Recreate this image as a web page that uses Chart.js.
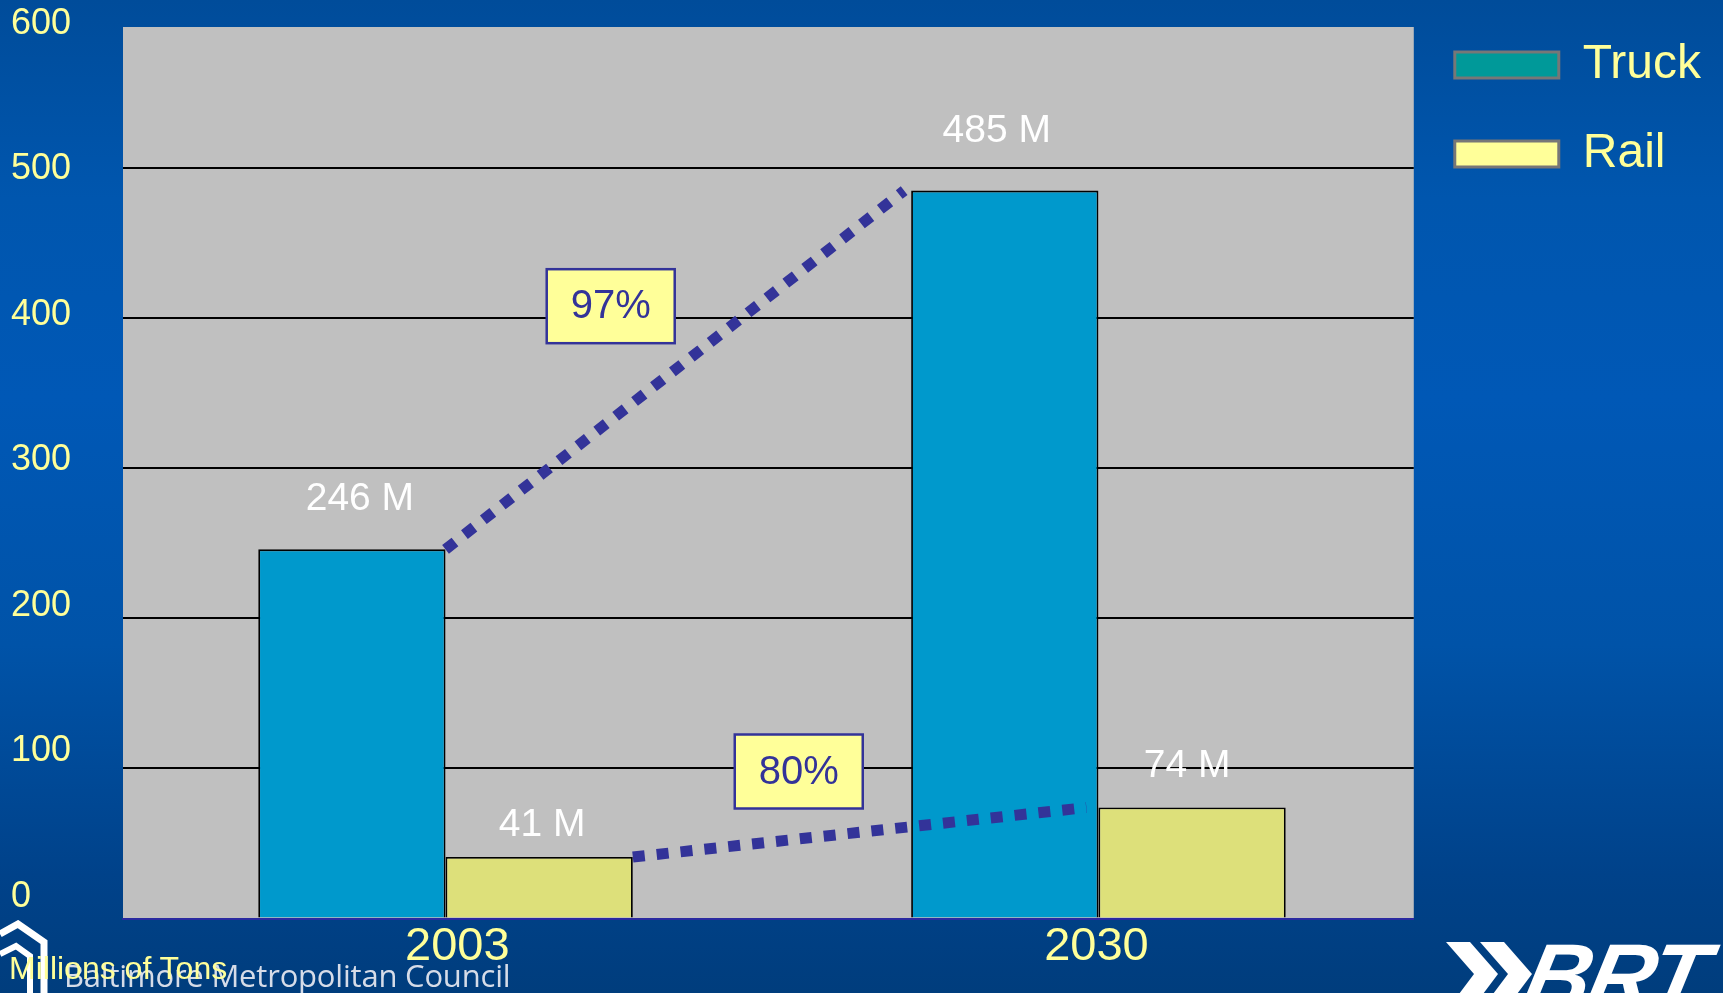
<!DOCTYPE html>
<html>
<head>
<meta charset="utf-8">
<script src="https://cdn.jsdelivr.net/npm/chart.js@4.4.1/dist/chart.umd.min.js"></script>
<style>
html,body{margin:0;padding:0;width:1723px;height:993px;overflow:hidden;}
body{
  position:relative;
  background:linear-gradient(to bottom,#004C9A 0%,#0056AE 20%,#0058B6 40%,#0053A8 65%,#00428A 88%,#003D7D 100%);
  font-family:'Liberation Sans',Arial,sans-serif;
}
#wrap{position:absolute;left:0;top:0;width:1723px;height:993px;}
#bmc{position:absolute;left:64px;top:960px;font-family:'Open Sans','DejaVu Sans',sans-serif;font-size:31px;line-height:31px;color:#D6DCE8;white-space:nowrap;letter-spacing:-0.2px;}
#units{position:absolute;left:9px;top:952px;font-size:32px;line-height:32px;color:#FFFF99;white-space:nowrap;}
#brt{position:absolute;left:1526px;top:930px;font-size:92px;line-height:92px;font-weight:bold;font-style:italic;color:#FFFFFF;transform:skewX(-12deg);white-space:nowrap;letter-spacing:-3px;}
#chev{position:absolute;left:1440px;top:940px;}
#logo{position:absolute;left:0;top:920px;}
</style>
</head>
<body>
<div id="wrap"><canvas id="c"></canvas></div>
<svg id="logo" width="60" height="73" viewBox="0 0 60 73">
  <polyline points="0,14 18,4 44,22 44,73" fill="none" stroke="#FFFFFF" stroke-width="7"/>
  <polyline points="0,34 16,26 30,36 30,73" fill="none" stroke="#FFFFFF" stroke-width="6"/>
</svg>
<div id="bmc">Baltimore Metropolitan Council</div>
<div id="units">Millions of Tons</div>
<svg id="chev" width="100" height="60" viewBox="0 0 100 60">
  <polygon points="6,2 30,2 58,34 34,66 10,66 34,34" fill="#FFFFFF"/>
  <polygon points="40,2 64,2 92,34 68,66 44,66 68,34" fill="#FFFFFF"/>
</svg>
<div id="brt">BRT</div>
<script>
// ---- data ----
const categories = ['2003', '2030'];
const truckValues = [246, 485];
const railValues = [41, 74];
const seriesNames = ['Truck', 'Rail'];
const yTickValues = [0, 100, 200, 300, 400, 500, 600];
const growthLabels = ['97%', '80%'];

const FONT = "'Liberation Sans', Arial, sans-serif";
const YELLOW = '#FFFF99';
const NAVY = '#333399';

const toPoints = (vals) => vals.map((v, i) => ({x: i, y: v}));

const decor = {
  id: 'decor',
  beforeDraw(chart) {
    const {ctx, chartArea: a} = chart;
    ctx.save();
    ctx.fillStyle = '#C0C0C0';
    ctx.fillRect(a.left, a.top, a.right - a.left, a.bottom - a.top);
    ctx.restore();
  },
  afterDatasetsDraw(chart, args, opts) {
    const ctx = chart.ctx;
    const xs = chart.scales.x, ys = chart.scales.y;
    // dotted growth lines between the two bars of each series
    chart.data.datasets.forEach((ds, i) => {
      const els = chart.getDatasetMeta(i).data;
      const a = els[0], b = els[1];
      ctx.save();
      ctx.strokeStyle = NAVY;
      ctx.lineWidth = 11;
      ctx.setLineDash([12, 12]);
      ctx.beginPath();
      ctx.moveTo(a.x + a.width / 2, a.y);
      ctx.lineTo(b.x - b.width / 2 - opts.lineGap[i], b.y);
      ctx.stroke();
      ctx.restore();
    });
    // value labels
    ctx.save();
    ctx.fillStyle = '#FFFFFF';
    ctx.font = '39px ' + FONT;
    ctx.textAlign = 'center';
    ctx.textBaseline = 'middle';
    chart.data.datasets.forEach((ds, i) => {
      const els = chart.getDatasetMeta(i).data;
      els.forEach((el, j) => {
        const off = opts.labelShift[i][j];
        ctx.fillText(ds.data[j].y + ' M', el.x + off[0], el.y - off[1]);
      });
    });
    ctx.restore();
    // growth boxes
    opts.boxes.forEach((bx, k) => {
      const cx = xs.getPixelForValue(bx.at[0]);
      const cy = ys.getPixelForValue(bx.at[1]);
      const w = 128, h = 74;
      ctx.save();
      ctx.fillStyle = YELLOW;
      ctx.strokeStyle = NAVY;
      ctx.lineWidth = 2.5;
      ctx.fillRect(cx - w / 2, cy - h / 2, w, h);
      ctx.strokeRect(cx - w / 2, cy - h / 2, w, h);
      ctx.fillStyle = NAVY;
      ctx.font = '40px ' + FONT;
      ctx.textAlign = 'center';
      ctx.textBaseline = 'middle';
      ctx.fillText(growthLabels[k], cx, cy + 1);
      ctx.restore();
    });
  }
};

new Chart(document.getElementById('c'), {
  type: 'bar',
  data: {
    datasets: [
      {label: seriesNames[0], data: toPoints(truckValues), backgroundColor: '#0099CC', borderColor: '#000000', borderWidth: 1.8, borderSkipped: 'bottom'},
      {label: seriesNames[1], data: toPoints(railValues), backgroundColor: '#DDE07A', borderColor: '#000000', borderWidth: 1.8, borderSkipped: 'bottom'}
    ]
  },
  options: {
    responsive: true,
    maintainAspectRatio: false,
    animation: false,
    layout: {padding: {left: 11, right: 12, top: 0, bottom: 18}},
    datasets: {bar: {categoryPercentage: 0.586, barPercentage: 1.0}},
    scales: {
      x: {
        type: 'linear',
        min: -0.494,
        max: 1.483,
        offset: false,
        bounds: 'data',
        afterBuildTicks: (ax) => { ax.ticks = categories.map((c, i) => ({value: i + (i === 0 ? 0.018 : -0.003)})); },
        grid: {display: false, drawTicks: false},
        border: {display: true, color: '#2A2AA0', width: 2},
        ticks: {
          color: YELLOW, font: {family: FONT, size: 47}, padding: 0, maxRotation: 0, autoSkip: false,
          callback: (v, i) => categories[i]
        }
      },
      y: {
        type: 'linear',
        position: 'left',
        min: 0,
        max: 594,
        bounds: 'data',
        afterBuildTicks: (ax) => { ax.ticks = yTickValues.filter(v => v <= 500).map(v => ({value: v})); },
        afterFit: (ax) => { ax.width = 0; },
        grid: {color: (c) => (c.tick && c.tick.value === 0) ? 'rgba(0,0,0,0)' : '#000000', lineWidth: 2, drawTicks: false},
        border: {display: false},
        ticks: {display: false}
      },
      yLabels: {
        type: 'linear',
        position: 'left',
        min: -15.1,
        max: 598.0,
        bounds: 'data',
        afterBuildTicks: (ax) => { ax.ticks = yTickValues.map(v => ({value: v})); },
        afterFit: (ax) => { ax.width = 112; },
        grid: {display: false, drawTicks: false},
        border: {display: false},
        ticks: {color: YELLOW, font: {family: FONT, size: 36, lineHeight: '54px'}, padding: 0, crossAlign: 'far', autoSkip: false}
      }
    },
    plugins: {
      tooltip: {enabled: false},
      legend: {
        position: 'right',
        align: 'start',
        maxWidth: 500,
        labels: {
          boxWidth: 104,
          boxHeight: 26,
          padding: 41,
          color: YELLOW,
          font: {family: FONT, size: 48},
          generateLabels: () => [
            {text: seriesNames[0], fillStyle: '#009999', strokeStyle: '#777777', lineWidth: 3, fontColor: YELLOW, hidden: false, datasetIndex: 0},
            {text: seriesNames[1], fillStyle: '#FFFF99', strokeStyle: '#777777', lineWidth: 3, fontColor: YELLOW, hidden: false, datasetIndex: 1}
          ]
        }
      },
      decor: {
        labelShift: [[[8, 50], [-8, 59]], [[3, 32], [-5, 41]]],
        lineGap: [7, 12],
        boxes: [{at: [0.253, 408]}, {at: [0.541, 98]}]
      }
    }
  },
  plugins: [decor]
});
</script>
</body>
</html>
